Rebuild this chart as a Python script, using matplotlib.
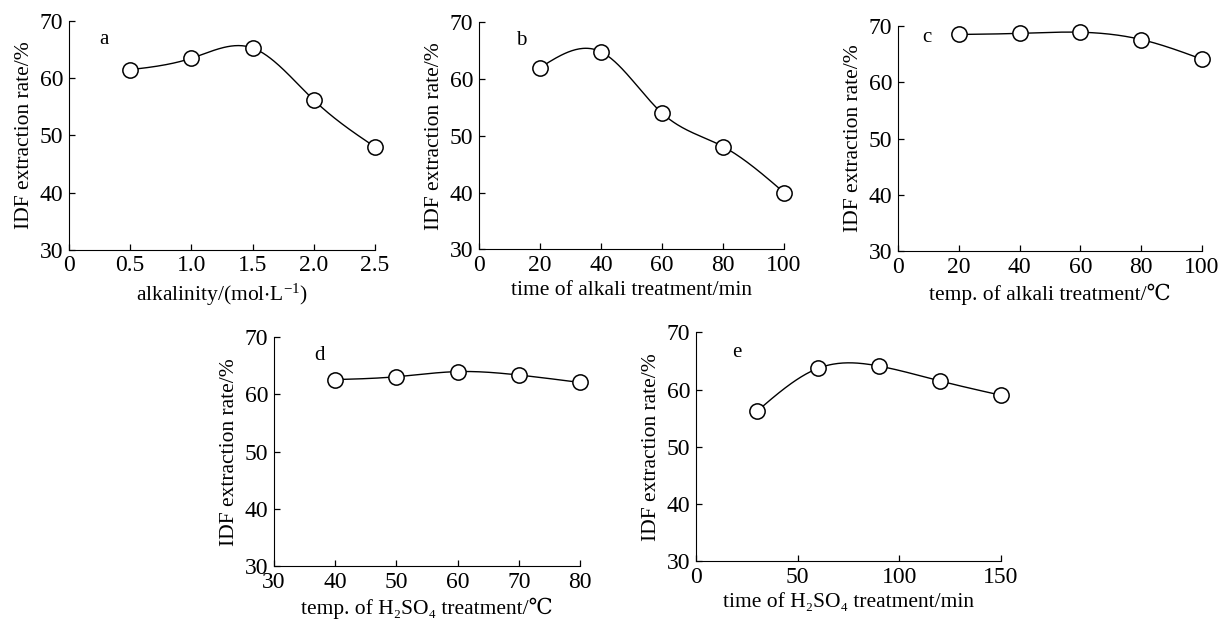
"""Five-panel IDF extraction rate figure (panels a-e)."""

import numpy as np
import matplotlib

matplotlib.use("Agg")
import matplotlib.pyplot as plt

plt.rcParams["font.family"] = ["Liberation Serif", "DejaVu Serif"]
plt.rcParams["mathtext.fontset"] = "custom"
plt.rcParams["mathtext.rm"] = "Liberation Serif"
plt.rcParams["mathtext.it"] = "Liberation Serif:italic"
plt.rcParams["mathtext.fallback"] = "stix"

# data
alk_x = [0.5, 1.0, 1.5, 2.0, 2.5]
alk_y = [61.5, 63.5, 65.3, 56.2, 48.0]

alk_time_x = [20, 40, 60, 80, 100]
alk_time_y = [62.0, 64.8, 54.0, 48.1, 40.0]

alk_temp_x = [20, 40, 60, 80, 100]
alk_temp_y = [68.5, 68.7, 68.9, 67.6, 64.1]

acid_temp_x = [40, 50, 60, 70, 80]
acid_temp_y = [62.6, 63.1, 64.0, 63.4, 62.1]

acid_time_x = [30, 60, 90, 120, 150]
acid_time_y = [56.2, 63.7, 64.1, 61.5, 59.0]

YLABEL = "IDF extraction rate/%"


def natural_spline(x, y, n=200):
    """Smooth curve through the points (natural cubic spline) for drawing."""
    x = np.asarray(x, float)
    y = np.asarray(y, float)
    k = len(x)
    h = np.diff(x)
    A = np.zeros((k, k))
    b = np.zeros(k)
    A[0, 0] = A[-1, -1] = 1.0
    for i in range(1, k - 1):
        A[i, i - 1] = h[i - 1]
        A[i, i] = 2 * (h[i - 1] + h[i])
        A[i, i + 1] = h[i]
        b[i] = 6 * ((y[i + 1] - y[i]) / h[i] - (y[i] - y[i - 1]) / h[i - 1])
    m = np.linalg.solve(A, b)
    xs = np.linspace(x[0], x[-1], n)
    idx = np.clip(np.searchsorted(x, xs) - 1, 0, k - 2)
    x0, x1 = x[idx], x[idx + 1]
    hh = x1 - x0
    t0, t1 = x1 - xs, xs - x0
    ys = (m[idx] * t0**3 + m[idx + 1] * t1**3) / (6 * hh) \
        + (y[idx] / hh - m[idx] * hh / 6) * t0 \
        + (y[idx + 1] / hh - m[idx + 1] * hh / 6) * t1
    return xs, ys


def panel(fig, rect, x, y, xlim, xticks, xticklabels, xlabel, tag, tagpos):
    ax = fig.add_axes(rect)
    xs, ys = natural_spline(x, y)
    ax.plot(xs, ys, color="black", lw=1.0, clip_on=False)
    ax.plot(x, y, "o", ms=11, mfc="white", mec="black", mew=1.1,
            clip_on=False, zorder=3)
    ax.set_xlim(*xlim)
    ax.set_ylim(30, 70)
    ax.set_xticks(xticks)
    ax.set_xticklabels(xticklabels)
    ax.set_yticks([30, 40, 50, 60, 70])
    for side in ("top", "right"):
        ax.spines[side].set_visible(False)
    ax.tick_params(direction="in", length=4, width=0.9, labelsize=17)
    ax.tick_params(axis="x", pad=4)
    ax.tick_params(axis="y", pad=4)
    ax.set_xlabel(xlabel, fontsize=15.5, labelpad=4)
    ax.set_ylabel(YLABEL, fontsize=15.5, labelpad=4)
    ax.text(tagpos[0], tagpos[1], tag, transform=ax.transAxes, fontsize=15)
    return ax


def main() -> None:
    fig = plt.figure(figsize=(12.21, 6.2), dpi=100)

    panel(fig, [0.0565, 0.597, 0.2506, 0.369], alk_x, alk_y,
          (0, 2.5), [0, 0.5, 1.0, 1.5, 2.0, 2.5],
          ["0", "0.5", "1.0", "1.5", "2.0", "2.5"],
          r"alkalinity/(mol$\cdot$L$^{-1}$)", "a", (0.10, 0.90))
    panel(fig, [0.3923, 0.598, 0.2498, 0.366], alk_time_x, alk_time_y,
          (0, 100), [0, 20, 40, 60, 80, 100],
          ["0", "20", "40", "60", "80", "100"],
          "time of alkali treatment/min", "b", (0.12, 0.90))
    panel(fig, [0.7355, 0.595, 0.249, 0.363], alk_temp_x, alk_temp_y,
          (0, 100), [0, 20, 40, 60, 80, 100],
          ["0", "20", "40", "60", "80", "100"],
          "temp. of alkali treatment/℃", "c", (0.08, 0.93))
    panel(fig, [0.2244, 0.087, 0.2506, 0.369], acid_temp_x, acid_temp_y,
          (30, 80), [30, 40, 50, 60, 70, 80],
          ["30", "40", "50", "60", "70", "80"],
          "temp. of H₂SO₄ treatment/℃", "d", (0.13, 0.90))
    panel(fig, [0.570, 0.095, 0.2498, 0.369], acid_time_x, acid_time_y,
          (0, 150), [0, 50, 100, 150],
          ["0", "50", "100", "150"],
          "time of H₂SO₄ treatment/min", "e", (0.12, 0.89))

    fig.savefig("out.png", dpi=100)
    plt.close(fig)


if __name__ == "__main__":
    main()
